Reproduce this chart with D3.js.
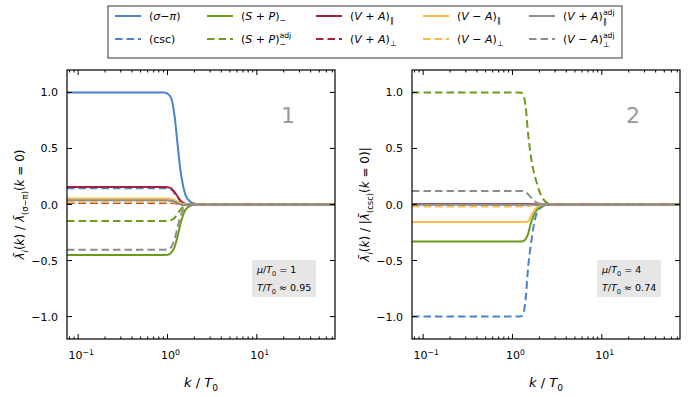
<!DOCTYPE html>
<html><head><meta charset="utf-8">
<script src="https://cdn.jsdelivr.net/npm/d3@7"></script>
<style>body{margin:0;background:#fff} text{font-family:"DejaVu Sans",sans-serif;white-space:pre}</style>
</head><body><svg id="chart" width="689" height="397"></svg>
<script>
// momentum grid (k/T0)
var kGrid1 = [0.075, 0.5, 0.9, 1.0, 1.1, 1.2, 1.3, 1.4, 1.5, 1.6, 1.8, 2.0, 2.5, 3, 75];
var kGrid2 = [0.075, 0.5, 1.0, 1.2, 1.3, 1.4, 1.5, 1.6, 1.7, 1.8, 2.0, 2.2, 2.5, 3, 75];

// panel 1 (mu/T0 = 1)
var p1_sigmaPi    = [1, 1, 1, 0.99, 0.95, 0.79, 0.53, 0.30, 0.16, 0.08, 0.025, 0.008, 0, 0, 0];
var p1_csc        = [0.145, 0.145, 0.145, 0.144, 0.135, 0.10, 0.06, 0.03, 0.012, 0.004, 0, 0, 0, 0, 0];
var p1_spm        = [-0.45, -0.45, -0.45, -0.449, -0.43, -0.38, -0.28, -0.17, -0.09, -0.045, -0.012, -0.003, 0, 0, 0];
var p1_spmAdj     = [-0.148, -0.148, -0.148, -0.147, -0.14, -0.12, -0.08, -0.045, -0.02, -0.008, 0, 0, 0, 0, 0];
var p1_vapPar     = [0.156, 0.156, 0.156, 0.155, 0.145, 0.11, 0.07, 0.035, 0.015, 0.005, 0, 0, 0, 0, 0];
var p1_vapPerp    = [0.014, 0.014, 0.014, 0.014, 0.013, 0.01, 0.006, 0.003, 0.001, 0, 0, 0, 0, 0, 0];
var p1_vamPar     = [0.053, 0.053, 0.053, 0.053, 0.05, 0.04, 0.025, 0.012, 0.005, 0.001, 0, 0, 0, 0, 0];
var p1_vamPerp    = [0.02, 0.02, 0.02, 0.02, 0.019, 0.015, 0.009, 0.004, 0.001, 0, 0, 0, 0, 0, 0];
var p1_vapParAdj  = [0.038, 0.038, 0.038, 0.037, 0.034, 0.025, 0.012, 0.002, -0.004, -0.004, -0.001, 0, 0, 0, 0];
var p1_vamPerpAdj = [-0.403, -0.403, -0.403, -0.40, -0.38, -0.31, -0.20, -0.10, -0.045, -0.02, -0.005, 0, 0, 0, 0];

// panel 2 (mu/T0 = 4)
var p2_sigmaPi    = [0, 0, 0, 0, 0, 0, 0, 0, 0, 0, 0, 0, 0, 0, 0];
var p2_csc        = [-1, -1, -1, -1, -0.99, -0.85, -0.55, -0.37, -0.22, -0.12, -0.04, -0.015, -0.003, 0, 0];
var p2_spm        = [-0.33, -0.33, -0.33, -0.33, -0.328, -0.31, -0.26, -0.17, -0.11, -0.07, -0.025, -0.008, -0.002, 0, 0];
var p2_spmAdj     = [1, 1, 1, 1, 0.99, 0.88, 0.62, 0.44, 0.32, 0.24, 0.12, 0.05, 0.01, 0, 0];
var p2_vapPar     = [0.005, 0.005, 0.005, 0.005, 0.005, 0.005, 0.004, 0.003, 0.002, 0.001, 0, 0, 0, 0, 0];
var p2_vapPerp    = [0, 0, 0, 0, 0, 0, 0, 0, 0, 0, 0, 0, 0, 0, 0];
var p2_vamPar     = [-0.157, -0.157, -0.157, -0.157, -0.157, -0.156, -0.15, -0.11, -0.07, -0.04, -0.012, -0.003, 0, 0, 0];
var p2_vamPerp    = [-0.018, -0.018, -0.018, -0.018, -0.018, -0.017, -0.014, -0.01, -0.006, -0.003, -0.001, 0, 0, 0, 0];
var p2_vapParAdj  = [0, 0, 0, 0, 0, 0, 0, 0, 0, 0, 0, 0, 0, 0, 0];
var p2_vamPerpAdj = [0.121, 0.121, 0.121, 0.121, 0.12, 0.112, 0.09, 0.065, 0.042, 0.025, 0.008, 0.002, 0, 0, 0];

var yTicks = [-1.0, -0.5, 0.0, 0.5, 1.0];
var xTicks = [0.1, 1, 10];

var colors = {blue: "#4a82cc", green: "#6a9b1b", red: "#a8203c", orange: "#fbbd48", grey: "#8c8c8c"};
var dash = "7.5,4";
var styles = [
    {c: colors.blue, d: null}, {c: colors.blue, d: dash},
    {c: colors.green, d: null}, {c: colors.green, d: dash},
    {c: colors.red, d: null}, {c: colors.red, d: dash},
    {c: colors.orange, d: null}, {c: colors.orange, d: dash},
    {c: colors.grey, d: null}, {c: colors.grey, d: dash}
];

// legend labels as [text, kind] parts
var legendLabels = [
    [["(", "r"], ["σ", "i"], ["−", "r"], ["π", "i"], [")", "r"]],
    [["(csc)", "r"]],
    [["(", "r"], ["S", "i"], [" + ", "r"], ["P", "i"], [")", "r"], ["−", "sub"]],
    [["(", "r"], ["S", "i"], [" + ", "r"], ["P", "i"], [")", "r"], [["−", "adj"], "subsup"]],
    [["(", "r"], ["V", "i"], [" + ", "r"], ["A", "i"], [")", "r"], ["∥", "sub"]],
    [["(", "r"], ["V", "i"], [" + ", "r"], ["A", "i"], [")", "r"], ["⊥", "sub"]],
    [["(", "r"], ["V", "i"], [" − ", "r"], ["A", "i"], [")", "r"], ["∥", "sub"]],
    [["(", "r"], ["V", "i"], [" − ", "r"], ["A", "i"], [")", "r"], ["⊥", "sub"]],
    [["(", "r"], ["V", "i"], [" + ", "r"], ["A", "i"], [")", "r"], [["∥", "adj"], "subsup"]],
    [["(", "r"], ["V", "i"], [" − ", "r"], ["A", "i"], [")", "r"], [["⊥", "adj"], "subsup"]]
];

var panels = [
    {left: 67, k: kGrid1, num: "1", mu: "1", t: "≈ 0.95",
     series: [p1_sigmaPi, p1_csc, p1_spm, p1_spmAdj, p1_vapPar, p1_vapPerp, p1_vamPar, p1_vamPerp, p1_vapParAdj, p1_vamPerpAdj],
     ylab: [["λ̄", "i"], ["i", "subi"], ["(", "r"], ["k", "i"], [")", "r"], [" / ", "r"], ["λ̄", "i"], ["(σ−π)", "sub"], ["(", "r"], ["k", "i"], [" = 0)", "r"]]},
    {left: 412, k: kGrid2, num: "2", mu: "4", t: "≈ 0.74",
     series: [p2_sigmaPi, p2_csc, p2_spm, p2_spmAdj, p2_vapPar, p2_vapPerp, p2_vamPar, p2_vamPerp, p2_vapParAdj, p2_vamPerpAdj],
     ylab: [["λ̄", "i"], ["i", "subi"], ["(", "r"], ["k", "i"], [")", "r"], [" / |", "r"], ["λ̄", "i"], ["(csc)", "sub"], ["(", "r"], ["k", "i"], [" = 0)|", "r"]]}
];

var svg = d3.select("#chart");
var plotW = 268, plotTop = 70, plotH = 269;

// rich text: lays parts side by side, returns the width
function rich(g, x, y, parts, fs) {
    var cx = x;
    parts.forEach(function(p) {
        var kind = p[1], t;
        if (kind === "subsup") {
            var a = g.append("text").attr("x", cx).attr("y", y + fs * 0.35).attr("font-size", fs * 0.7).text(p[0][0]);
            var b = g.append("text").attr("x", cx).attr("y", y - fs * 0.45).attr("font-size", fs * 0.7).text(p[0][1]);
            cx += Math.max(a.node().getComputedTextLength(), b.node().getComputedTextLength());
            return;
        }
        t = g.append("text").attr("x", cx).attr("y", y).attr("font-size", fs).text(p[0]);
        if (kind === "i") t.attr("font-style", "italic");
        if (kind === "sub" || kind === "subi") {
            t.attr("font-size", fs * 0.7).attr("y", y + fs * 0.3);
            if (kind === "subi") t.attr("font-style", "italic");
        }
        if (kind === "sup") t.attr("font-size", fs * 0.7).attr("y", y - fs * 0.4);
        cx += t.node().getComputedTextLength();
    });
    return cx - x;
}

function centered(parent, cx, y, parts, fs, transform) {
    var g = parent.append("g");
    if (transform) g.attr("transform", transform);
    var inner = g.append("g");
    var w = rich(inner, 0, y, parts, fs);
    inner.attr("transform", "translate(" + (cx - w / 2) + ",0)");
    return g;
}

panels.forEach(function(p) {
    var x = d3.scaleLog().domain([0.075, 75]).range([p.left, p.left + plotW]);
    var y = d3.scaleLinear().domain([-1.2, 1.2]).range([plotTop + plotH, plotTop]);
    var g = svg.append("g");

    var clip = "clip" + p.num;
    g.append("clipPath").attr("id", clip).append("rect")
        .attr("x", p.left).attr("y", plotTop).attr("width", plotW).attr("height", plotH);

    var line = d3.line().x(function(d) { return x(d[0]); }).y(function(d) { return y(d[1]); })
        .curve(d3.curveMonotoneX);

    var lines = g.append("g").attr("clip-path", "url(#" + clip + ")");
    p.series.forEach(function(vals, i) {
        lines.append("path")
            .datum(p.k.map(function(k, j) { return [k, vals[j]]; }))
            .attr("d", line)
            .attr("fill", "none")
            .attr("stroke", styles[i].c)
            .attr("stroke-width", 2)
            .attr("stroke-dasharray", styles[i].d);
    });

    // ticks inside on all four sides
    var minor = [];
    [0.01, 0.1, 1, 10].forEach(function(dec) {
        for (var m = 2; m <= 9; m++) {
            var v = dec * m;
            if (v > 0.075 && v < 75) minor.push(v);
        }
    });
    var ax = g.append("g").attr("stroke", "#000").attr("stroke-width", 1);
    xTicks.forEach(function(v) {
        ax.append("line").attr("x1", x(v)).attr("x2", x(v)).attr("y1", plotTop + plotH).attr("y2", plotTop + plotH - 5);
        ax.append("line").attr("x1", x(v)).attr("x2", x(v)).attr("y1", plotTop).attr("y2", plotTop + 5);
    });
    minor.forEach(function(v) {
        ax.append("line").attr("x1", x(v)).attr("x2", x(v)).attr("y1", plotTop + plotH).attr("y2", plotTop + plotH - 2.5);
        ax.append("line").attr("x1", x(v)).attr("x2", x(v)).attr("y1", plotTop).attr("y2", plotTop + 2.5);
    });
    yTicks.forEach(function(v) {
        ax.append("line").attr("x1", p.left).attr("x2", p.left + 5).attr("y1", y(v)).attr("y2", y(v));
        ax.append("line").attr("x1", p.left + plotW).attr("x2", p.left + plotW - 5).attr("y1", y(v)).attr("y2", y(v));
    });
    g.append("rect").attr("x", p.left).attr("y", plotTop).attr("width", plotW).attr("height", plotH)
        .attr("fill", "none").attr("stroke", "#000").attr("stroke-width", 1.2);

    // tick labels
    var fmt = d3.format(".1f");
    yTicks.forEach(function(v) {
        g.append("text").attr("x", p.left - 9).attr("y", y(v) + 4).attr("text-anchor", "end")
            .attr("font-size", 11).text(fmt(v));
    });
    xTicks.forEach(function(v) {
        var e = Math.round(Math.log10(v));
        centered(g, x(v) + 3, plotTop + plotH + 20, [["10", "r"], [e < 0 ? "−" + (-e) : String(e), "sup"]], 11);
    });

    // axis labels
    centered(g, p.left + plotW / 2, 387, [["k", "i"], [" / ", "r"], ["T", "i"], ["0", "sub"]], 13);
    centered(g, -(plotTop + plotH / 2), p.left - 43, p.ylab, 12, "rotate(-90)");

    // panel number
    g.append("text").attr("x", p.left + 221).attr("y", plotTop + 53).attr("text-anchor", "middle")
        .attr("font-size", 22).attr("fill", "#999").text(p.num);

    // parameter box
    var bx = p.left + 185, by = 260;
    g.append("rect").attr("x", bx).attr("y", by).attr("width", 64).attr("height", 37).attr("fill", "#e6e6e6");
    rich(g, bx + 5, by + 13, [["μ", "i"], ["/", "r"], ["T", "i"], ["0", "sub"], [" = " + p.mu, "r"]], 9.5);
    rich(g, bx + 5, by + 31, [["T", "i"], ["/", "r"], ["T", "i"], ["0", "sub"], [" " + p.t, "r"]], 9.5);
});

// legend
var lg = svg.append("g");
lg.append("rect").attr("x", 108).attr("y", 6).attr("width", 514).attr("height", 52)
    .attr("fill", "#fff").attr("stroke", "#333").attr("stroke-width", 1);
var colX = [115, 207, 316, 423, 529];
legendLabels.forEach(function(lab, i) {
    var cx = colX[Math.floor(i / 2)], cy = i % 2 === 0 ? 20 : 43;
    lg.append("line").attr("x1", cx).attr("x2", cx + 26).attr("y1", cy - 4).attr("y2", cy - 4)
        .attr("stroke", styles[i].c).attr("stroke-width", 2).attr("stroke-dasharray", styles[i].d);
    rich(lg, cx + 34, cy, lab, 11);
});
</script></body></html>
